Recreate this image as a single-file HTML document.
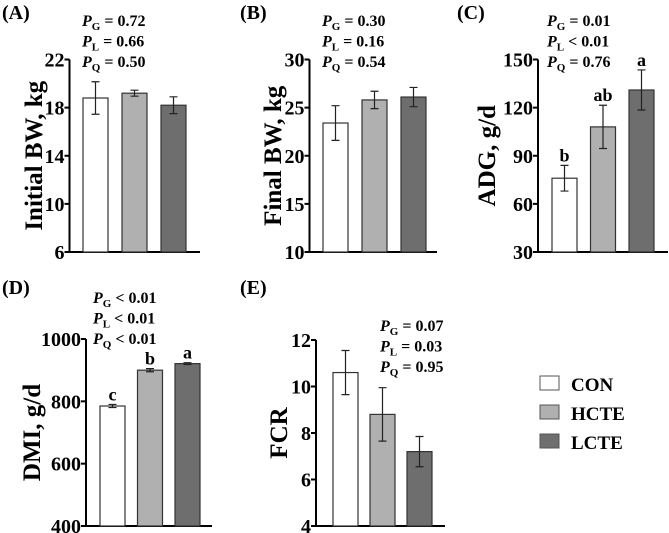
<!DOCTYPE html>
<html><head><meta charset="utf-8"><style>
html,body{margin:0;padding:0;background:#fff;width:669px;height:533px;overflow:hidden}
svg, svg text, svg tspan{font-family:"Liberation Serif","Times New Roman",Times,serif;font-weight:bold}
</style></head><body>
<svg id="chart" width="669" height="533" viewBox="0 0 669 533" xmlns="http://www.w3.org/2000/svg" font-family="Liberation Serif, Times New Roman, serif" font-weight="bold">
<g id="legend">
<rect x="540" y="376" width="19" height="14" fill="#fff" stroke="#555"/>
<text x="571" y="391" font-size="19">CON</text>
<rect x="540" y="405" width="19" height="14" fill="#b0b0b0" stroke="#555"/>
<text x="571" y="420" font-size="19">HCTE</text>
<rect x="540" y="434" width="19" height="14" fill="#6e6e6e" stroke="#555"/>
<text x="571" y="449" font-size="19">LCTE</text>
</g>
</svg>
<script>
const groups = ["CON","HCTE","LCTE"];
const colors = ["#ffffff","#b0b0b0","#6e6e6e"];
const initialBW = [18.8,19.2,18.2];
const initialBWErr = [1.35,0.25,0.7];
const initialTicks = [6,10,14,18,22];
const finalBW = [23.4,25.8,26.1];
const finalBWErr = [1.8,0.9,1.0];
const finalTicks = [10,15,20,25,30];
const adg = [76,108,131];
const adgErr = [8,13.5,12.5];
const adgTicks = [30,60,90,120,150];
const adgLetters = ["b","ab","a"];
const dmi = [785,900,921];
const dmiErr = [5,5,3];
const dmiTicks = [400,600,800,1000];
const dmiLetters = ["c","b","a"];
const fcr = [10.6,8.8,7.2];
const fcrErr = [0.95,1.15,0.65];
const fcrTicks = [4,6,8,10,12];
const pA = [["G","=","0.72"],["L","=","0.66"],["Q","=","0.50"]];
const pB = [["G","=","0.30"],["L","=","0.16"],["Q","=","0.54"]];
const pC = [["G","=","0.01"],["L","<","0.01"],["Q","=","0.76"]];
const pD = [["G","<","0.01"],["L","<","0.01"],["Q","<","0.01"]];
const pE = [["G","=","0.07"],["L","=","0.03"],["Q","=","0.95"]];

const NS="http://www.w3.org/2000/svg";
const svg=document.getElementById('chart');
function mk(tag,attrs,parent){const e=document.createElementNS(NS,tag);for(const k in attrs)e.setAttribute(k,attrs[k]);parent.appendChild(e);return e;}

function panel(cfg){
  const g=mk('g',{},svg);
  
  
  const t=cfg.ticks, lo=t[0], hi=t[t.length-1];
  const y=v=>cfg.yb-(v-lo)/(hi-lo)*(cfg.yb-cfg.yt);
  const lab=mk('text',{x:cfg.lx,y:cfg.ly,'font-size':20},g);lab.textContent='('+cfg.id.toUpperCase()+')';
  
  
  const yt=mk('text',{x:cfg.tx,y:(cfg.yt+cfg.yb)/2,'font-size':25,'text-anchor':'middle',transform:`rotate(-90 ${cfg.tx} ${(cfg.yt+cfg.yb)/2})`},g);
  yt.textContent=cfg.title;
  
  
  const ax=mk('path',{d:`M${cfg.ax} ${cfg.yt}V${cfg.yb}H${cfg.axEnd}`,stroke:'#000','stroke-width':2,fill:'none'},g);
  
  
  t.forEach(v=>{
    mk('line',{x1:cfg.ax-5,x2:cfg.ax,y1:y(v),y2:y(v),stroke:'#000','stroke-width':2},g);
    const tl=mk('text',{x:cfg.ax-5,y:y(v)+7,'font-size':20,'text-anchor':'end'},g);tl.textContent=v;
    
    
  });
  cfg.vals.forEach((v,i)=>{
    const x0=cfg.bx+i*cfg.step, w=25, cx=x0+w/2;
    const b=mk('rect',{x:x0,y:y(v),width:w,height:cfg.yb-y(v),fill:colors[i],stroke:'#333','stroke-width':1.2},g);
    
    
    const e=cfg.err[i];
    const eb=mk('path',{d:`M${cx} ${y(v+e)}V${y(v-e)}M${cx-4} ${y(v+e)}H${cx+4}M${cx-4} ${y(v-e)}H${cx+4}`,stroke:'#222','stroke-width':1.2,fill:'none'},g);
    
    
    if(cfg.letters){const l=mk('text',{x:cx,y:y(v+e)-4,'font-size':18,'text-anchor':'middle'},g);l.textContent=cfg.letters[i];
      
      }
  });
  cfg.p.forEach((r,i)=>{
    const tx=mk('text',{x:cfg.px,y:cfg.py+i*20.5,'font-size':16},g);
    
    
    const a=mk('tspan',{'font-style':'italic'},tx);a.textContent='P';
    const s=mk('tspan',{'font-size':11,dy:4},tx);s.textContent=r[0];
    const c=mk('tspan',{dy:-4},tx);c.textContent=' '+r[1]+' '+r[2];
  });
}
panel({id:'a',title:'Initial BW, kg',vals:initialBW,err:initialBWErr,ticks:initialTicks,yt:59.5,yb:252,ax:69.5,axEnd:200,bx:83,step:39,lx:2,ly:19,tx:42,px:82,py:26,p:pA});
panel({id:'b',title:'Final BW, kg',vals:finalBW,err:finalBWErr,ticks:finalTicks,yt:59.5,yb:252,ax:309.5,axEnd:437,bx:323,step:39,lx:240,ly:19,tx:281,px:322,py:26,p:pB});
panel({id:'c',title:'ADG, g/d',vals:adg,err:adgErr,ticks:adgTicks,yt:59.5,yb:252,ax:538,axEnd:668,bx:552,step:38.5,letters:adgLetters,lx:457,ly:19,tx:495,px:547,py:26,p:pC});
panel({id:'d',title:'DMI, g/d',vals:dmi,err:dmiErr,ticks:dmiTicks,yt:339,yb:526,ax:86,axEnd:212,bx:100,step:37.5,letters:dmiLetters,lx:2,ly:294,tx:40,px:93,py:303,p:pD});
panel({id:'e',title:'FCR',vals:fcr,err:fcrErr,ticks:fcrTicks,yt:340,yb:526,ax:316,axEnd:445,bx:333,step:37,lx:240,ly:294,tx:287,px:380,py:331,p:pE});
</script>
</body></html>
